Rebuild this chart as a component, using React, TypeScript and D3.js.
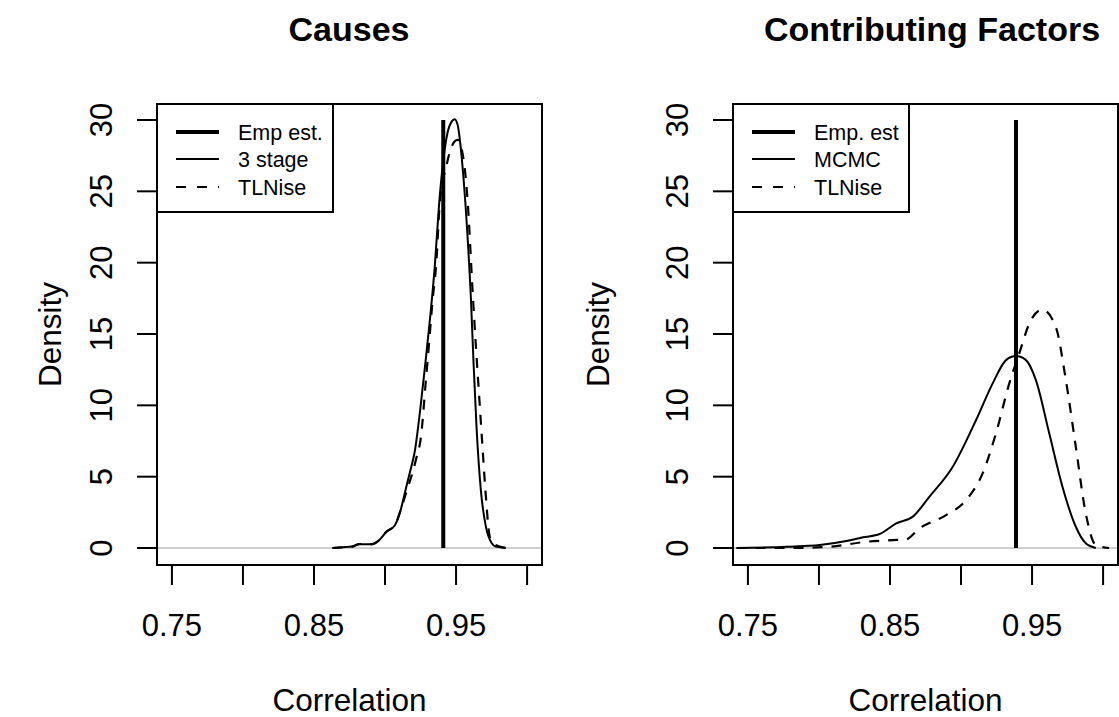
import * as d3 from "d3";

const W = 1119;
const H = 717;
const FONT = "'Liberation Sans', Arial, Helvetica, sans-serif";

// panel geometry (plot box)
const BOX_TOP = 104;
const BOX_BOTTOM = 565;
const BOX_W = 385;

const xTicks = [0.75, 0.8, 0.85, 0.9, 0.95, 1.0];
const xTickLabels = ["0.75", "", "0.85", "", "0.95", ""];
const yTicks = [0, 5, 10, 15, 20, 25, 30];

// Causes panel
const causesTitle = "Causes";
const causesLegend = ["Emp est.", "3 stage", "TLNise"];
const causesEmp = 0.941;
const stage3X = [0.863, 0.870, 0.877, 0.882, 0.886, 0.891, 0.896, 0.901, 0.907, 0.911, 0.915, 0.918, 0.921, 0.925, 0.928, 0.932, 0.935, 0.938, 0.9405, 0.944, 0.947, 0.949, 0.951, 0.9546, 0.958, 0.9605, 0.9623, 0.9644, 0.9675, 0.971, 0.975, 0.978, 0.985];
const stage3Y = [0, 0.05, 0.1, 0.28, 0.26, 0.27, 0.56, 1.14, 1.6, 2.66, 4.3, 5.5, 6.8, 9.9, 12.6, 16.4, 19.7, 24.0, 26.7, 29.1, 29.9, 30.05, 29.7, 26.7, 22.0, 17.4, 13.0, 8.5, 4.0, 1.5, 0.35, 0.1, 0];
const tlniseCX = [0.863, 0.870, 0.877, 0.882, 0.886, 0.891, 0.896, 0.901, 0.907, 0.911, 0.9148, 0.9218, 0.9253, 0.9288, 0.9312, 0.9335, 0.9359, 0.9387, 0.943, 0.9464, 0.951, 0.9541, 0.9581, 0.9616, 0.964, 0.9663, 0.9686, 0.971, 0.9733, 0.9757, 0.985];
const tlniseCY = [0, 0.05, 0.1, 0.28, 0.26, 0.27, 0.56, 1.14, 1.6, 2.66, 3.85, 6.2, 7.8, 11.8, 14.6, 17.4, 19.7, 24.4, 26.7, 28.0, 28.6, 27.9, 24.4, 18.1, 14.1, 10.6, 7.1, 3.6, 1.03, 0.33, 0];

// Contributing Factors panel
const factorsTitle = "Contributing Factors";
const factorsLegend = ["Emp. est", "MCMC", "TLNise"];
const factorsEmp = 0.9387;
const mcmcX = [0.742, 0.7772, 0.8006, 0.8193, 0.831, 0.8427, 0.8544, 0.8661, 0.8778, 0.8942, 0.9106, 0.9223, 0.9317, 0.9387, 0.9457, 0.9527, 0.9621, 0.9714, 0.9808, 0.9878, 0.9949];
const mcmcY = [0, 0.09, 0.21, 0.49, 0.75, 0.98, 1.73, 2.2, 3.6, 5.7, 8.97, 11.54, 13.17, 13.45, 13.17, 11.77, 8.04, 4.3, 1.49, 0.33, 0];
const tlniseFX = [0.742, 0.777, 0.8076, 0.8334, 0.852, 0.8614, 0.8708, 0.8895, 0.9036, 0.9152, 0.9246, 0.934, 0.941, 0.9492, 0.9573, 0.9667, 0.9738, 0.9808, 0.9878, 0.9949, 1.0042];
const tlniseFY = [0, 0, 0.09, 0.44, 0.56, 0.61, 1.38, 2.31, 3.36, 5.23, 8.04, 11.54, 13.64, 15.98, 16.7, 15.5, 11.77, 7.1, 2.43, 0.21, 0];

const panels = [
  {id: "p1", left: 157, title: causesTitle, legend: causesLegend, emp: causesEmp,
    solid: {x: stage3X, y: stage3Y}, dashed: {x: tlniseCX, y: tlniseCY}, ylabX: 50, titleX: 349},
  {id: "p2", left: 733, title: factorsTitle, legend: factorsLegend, emp: factorsEmp,
    solid: {x: mcmcX, y: mcmcY}, dashed: {x: tlniseFX, y: tlniseFY}, ylabX: 598, titleX: 932},
];

const Panel = ({p}: {p: any}) => {
  const x = d3.scaleLinear().domain([0.7395, 1.0105]).range([p.left, p.left + BOX_W]);
  const y = d3.scaleLinear().domain([-1.19, 31.12]).range([BOX_BOTTOM, BOX_TOP]);
  const line = d3.line<[number, number]>()
    .x(d => x(d[0]))
    .y(d => y(d[1]))
    .curve(d3.curveMonotoneX);
  const solidPts = p.solid.x.map((v: number, i: number) => [v, p.solid.y[i]] as [number, number]);
  const dashedPts = p.dashed.x.map((v: number, i: number) => [v, p.dashed.y[i]] as [number, number]);
  const cx = p.left + BOX_W / 2;
  const legW = 176;
  const legRows = [132, 159, 187];
  return (
    <g>
      <defs>
        <clipPath id={p.id + "-clip"}>
          <rect x={p.left} y={BOX_TOP} width={BOX_W} height={BOX_BOTTOM - BOX_TOP} />
        </clipPath>
      </defs>
      <text x={p.titleX} y={41} textAnchor="middle" fontWeight="bold" fontSize={34} fontFamily={FONT}>{p.title}</text>
      <g clipPath={`url(#${p.id}-clip)`}>
        <line x1={p.left} x2={p.left + BOX_W} y1={y(0)} y2={y(0)} stroke="#bebebe" strokeWidth={1.5} />
        <path d={line(solidPts) ?? ""} fill="none" stroke="#000" strokeWidth={2} />
        <path d={line(dashedPts) ?? ""} fill="none" stroke="#000" strokeWidth={2.2} strokeDasharray="10,9" />
        <line x1={x(p.emp)} x2={x(p.emp)} y1={y(0)} y2={y(30)} stroke="#000" strokeWidth={4} />
      </g>
      <rect x={p.left} y={BOX_TOP} width={BOX_W} height={BOX_BOTTOM - BOX_TOP} fill="none" stroke="#000" strokeWidth={2} />
      {/* x axis */}
      {xTicks.map((t, i) => (
        <g key={"xt" + i}>
          <line x1={x(t)} x2={x(t)} y1={BOX_BOTTOM} y2={BOX_BOTTOM + 20} stroke="#000" strokeWidth={2} />
          {xTickLabels[i] && (
            <text x={x(t)} y={636} textAnchor="middle" fontSize={31} fontFamily={FONT}>{xTickLabels[i]}</text>
          )}
        </g>
      ))}
      <text x={cx} y={711} textAnchor="middle" fontSize={31.5} fontFamily={FONT}>Correlation</text>
      {/* y axis */}
      {yTicks.map(t => (
        <g key={"yt" + t}>
          <line x1={p.left - 20} x2={p.left} y1={y(t)} y2={y(t)} stroke="#000" strokeWidth={2} />
          <text transform={`translate(${p.left - 45},${y(t)}) rotate(-90)`} textAnchor="middle" fontSize={31} fontFamily={FONT}>{t}</text>
        </g>
      ))}
      <text transform={`translate(${p.ylabX + 11},${(BOX_TOP + BOX_BOTTOM) / 2}) rotate(-90)`} textAnchor="middle" fontSize={31.5} fontFamily={FONT}>Density</text>
      {/* legend */}
      <rect x={p.left} y={BOX_TOP} width={legW} height={108} fill="#fff" stroke="#000" strokeWidth={2} />
      {p.legend.map((lab: string, i: number) => (
        <g key={"lg" + i}>
          <line x1={p.left + 19} x2={p.left + 62} y1={legRows[i]} y2={legRows[i]} stroke="#000"
                strokeWidth={i === 0 ? 4 : 2} strokeDasharray={i === 2 ? "10,11" : undefined} />
          <text x={p.left + 81} y={legRows[i] + 7.5} fontSize={21.5} fontFamily={FONT}>{lab}</text>
        </g>
      ))}
    </g>
  );
};

export default function App() {
  return (
    <div style={{position: "absolute", left: 0, top: 0}}>
      <svg width={W} height={H} style={{display: "block", background: "#fff"}}>
        <rect width={W} height={H} fill="#fff" />
        {panels.map(p => <Panel key={p.id} p={p} />)}
      </svg>
    </div>
  );
}
